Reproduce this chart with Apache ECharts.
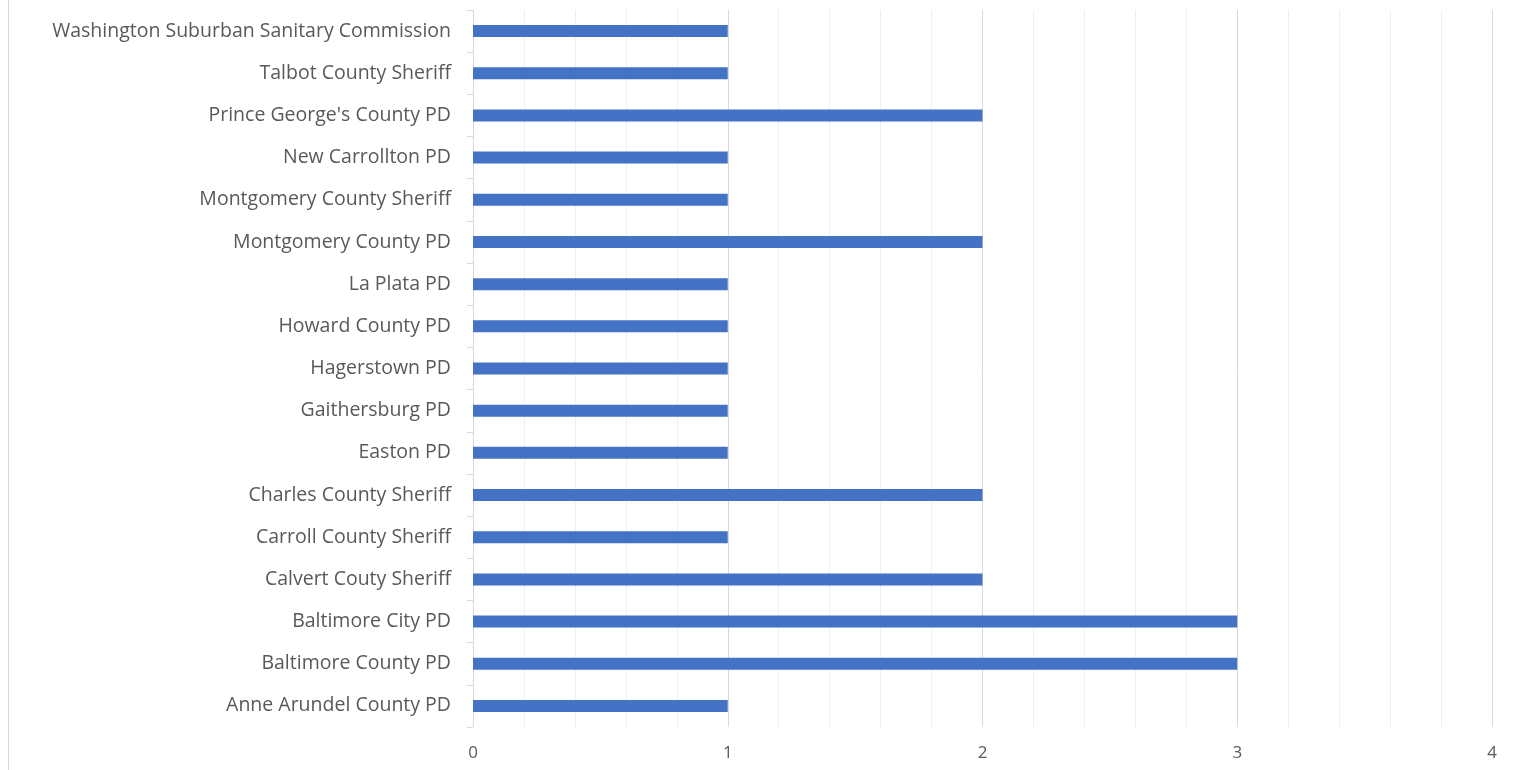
<!DOCTYPE html>
<html><head><meta charset="utf-8">
<script src="https://cdn.jsdelivr.net/npm/echarts@6/dist/echarts.min.js"></script>
<style>html,body{margin:0;padding:0;background:#fff}#c{width:1518px;height:770px}</style>
</head><body><div id="c"></div>
<script>
const categories = ["Anne Arundel County PD","Baltimore County PD","Baltimore City PD","Calvert Couty Sheriff","Carroll County Sheriff","Charles County Sheriff","Easton PD","Gaithersburg PD","Hagerstown PD","Howard County PD","La Plata PD","Montgomery County PD","Montgomery County Sheriff","New Carrollton PD","Prince George's County PD","Talbot County Sheriff","Washington Suburban Sanitary Commission"];
const values = [1,3,3,2,1,2,1,1,1,1,1,2,1,1,2,1,1];
const xTicks = [0,1,2,3,4];
const chart = echarts.init(document.getElementById('c'));
chart.setOption({
  animation:false,
  textStyle:{fontFamily:"'Open Sans', 'Liberation Sans', sans-serif"},
  graphic:[{type:'line',shape:{x1:8.5,y1:0,x2:8.5,y2:770},style:{stroke:'#d9d9d9',lineWidth:1}}],
  grid:{left:473,right:26,top:10,bottom:43,containLabel:false},
  xAxis:{type:'value',min:0,max:4,interval:1,splitNumber:4,
    axisLine:{show:false},axisTick:{show:false},
    axisLabel:{color:'#595959',fontSize:17,margin:18,formatter:v=>xTicks.includes(v)?String(v):''},
    splitLine:{show:true,lineStyle:{color:'#d9d9d9',width:1}},
    minorTick:{show:false,splitNumber:5},
    minorSplitLine:{show:true,lineStyle:{color:'#efefef',width:1}}},
  yAxis:{type:'category',data:categories,
    axisLine:{show:true,lineStyle:{color:'#d9d9d9'}},
    axisTick:{show:true,length:6,lineStyle:{color:'#d9d9d9'}},
    axisLabel:{color:'#595959',fontSize:19.5,margin:22}},
  series:[{type:'bar',data:values,barWidth:12,itemStyle:{color:'#4472C4'}}]
});
</script></body></html>
